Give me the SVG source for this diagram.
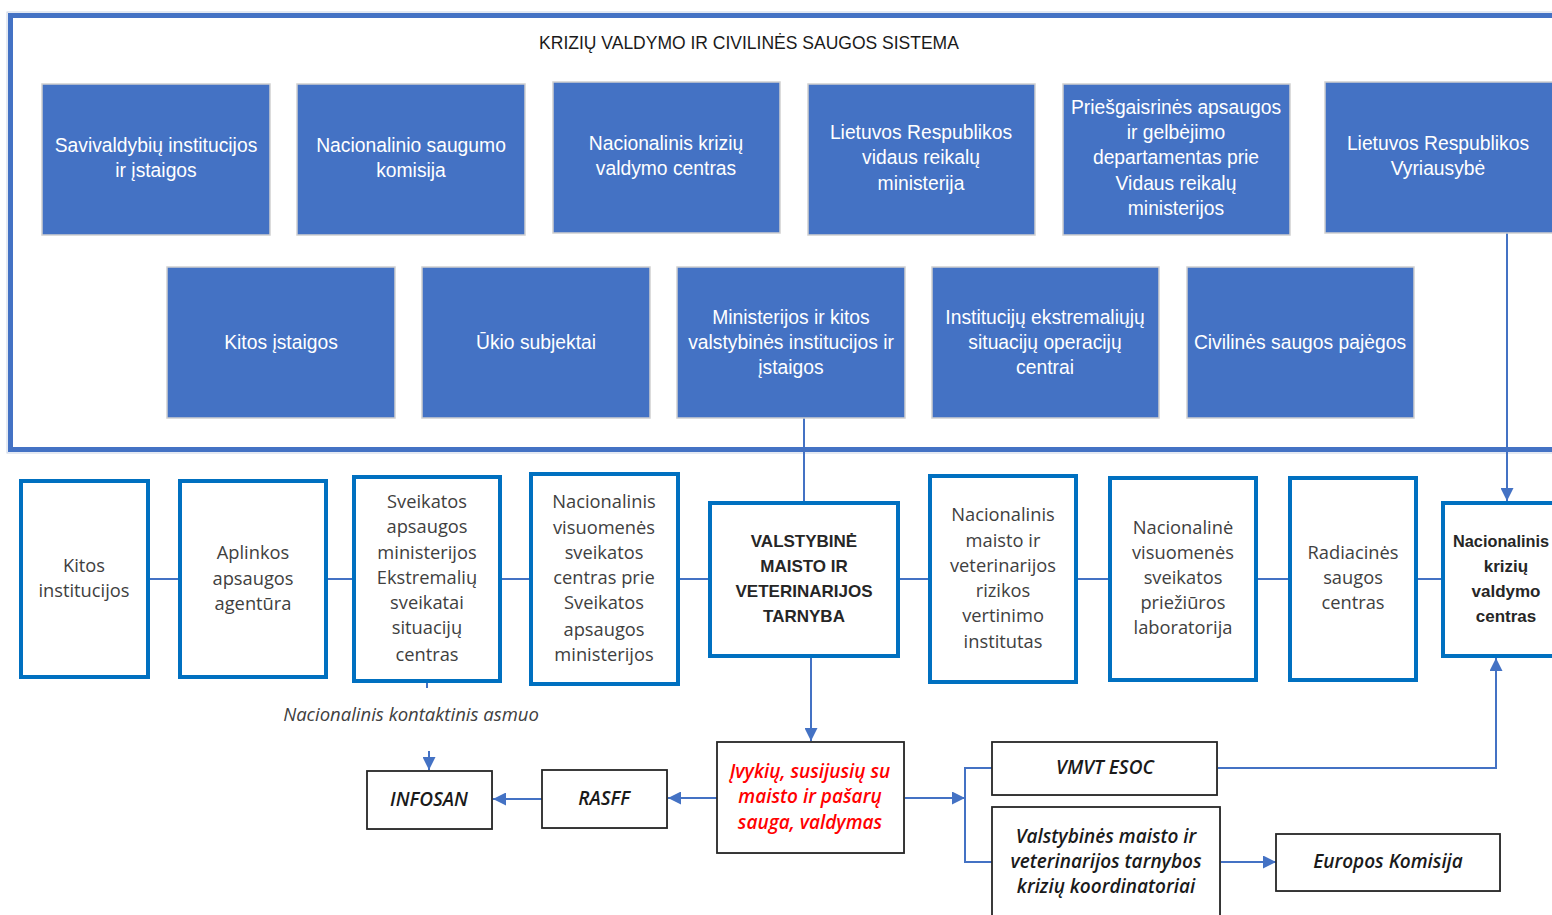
<svg xmlns="http://www.w3.org/2000/svg" width="1552" height="915" viewBox="0 0 1552 915">
<style>
.frame{fill:none;stroke:#4472C4;stroke-width:5}
.frame2{fill:none;stroke:#C9D3E6;stroke-width:1}
.bb{fill:#4472C4;stroke:#D0D0D0;stroke-width:1.5}
.bt{font-family:"Liberation Sans",Arial,sans-serif;font-size:19.3px;fill:#FFFFFF;text-anchor:middle}
.title{font-family:"Liberation Sans",Arial,sans-serif;font-size:17.5px;fill:#1A1A1A;text-anchor:middle}
.wb{fill:#FFFFFF;stroke:#0070C0;stroke-width:4}
.wt{font-family:"Open Sans","Liberation Sans",sans-serif;font-size:18.3px;fill:#404040;text-anchor:middle}
.wtb{font-family:"Liberation Sans",Arial,sans-serif;font-size:17px;font-weight:bold;fill:#262626;text-anchor:middle}
.kb{fill:#FFFFFF;stroke:#262626;stroke-width:1.8}
.sh{fill:#BFBFBF}
.it{font-family:"Open Sans","Liberation Sans",sans-serif;font-size:19px;font-style:italic;font-weight:600;fill:#1A1A1A;text-anchor:middle}
.red{fill:#FF0000}
.lbl{font-family:"Open Sans","Liberation Sans",sans-serif;font-size:18.5px;font-style:italic;fill:#404040;text-anchor:middle}
.ln{fill:none;stroke:#4472C4;stroke-width:2}
</style>
<defs>
<marker id="ah" viewBox="0 0 10 10" refX="10" refY="5" markerUnits="userSpaceOnUse" markerWidth="13" markerHeight="13" orient="auto">
<path d="M0,0 L10,5 L0,10 z" fill="#4472C4"/>
</marker>
</defs>
<rect width="1552" height="915" fill="#FFFFFF"/>

<g id="frame">
<rect class="frame2" x="7" y="12" width="1560" height="441"/>
<rect class="frame" x="10.5" y="15.5" width="1560" height="434"/>
<text class="title" x="749" y="49">KRIZIŲ VALDYMO IR CIVILINĖS SAUGOS SISTEMA</text>
</g>

<g id="connectors">
<line class="ln" x1="804" y1="418" x2="804" y2="503"/>
<line class="ln" x1="1507" y1="233" x2="1507" y2="501" marker-end="url(#ah)"/>
<line class="ln" x1="148" y1="579" x2="180" y2="579"/>
<line class="ln" x1="326" y1="579" x2="354" y2="579"/>
<line class="ln" x1="500" y1="579" x2="531" y2="579"/>
<line class="ln" x1="678" y1="579" x2="710" y2="579"/>
<line class="ln" x1="898" y1="579" x2="930" y2="579"/>
<line class="ln" x1="1076" y1="579" x2="1110" y2="579"/>
<line class="ln" x1="1256" y1="579" x2="1290" y2="579"/>
<line class="ln" x1="1416" y1="579" x2="1443" y2="579"/>
<line class="ln" x1="427" y1="681" x2="427" y2="688"/>
<line class="ln" x1="429" y1="751" x2="429" y2="770" marker-end="url(#ah)"/>
<line class="ln" x1="811" y1="656" x2="811" y2="741" marker-end="url(#ah)"/>
<line class="ln" x1="717" y1="798" x2="668" y2="798" marker-end="url(#ah)"/>
<line class="ln" x1="542" y1="799" x2="493" y2="799" marker-end="url(#ah)"/>
<line class="ln" x1="904" y1="798" x2="965" y2="798" marker-end="url(#ah)"/>
<polyline class="ln" points="992,768 965,768 965,862 992,862"/>
<polyline class="ln" points="1217,768 1496,768 1496,658" marker-end="url(#ah)"/>
<line class="ln" x1="1220" y1="862" x2="1276" y2="862" marker-end="url(#ah)"/>
</g>

<g id="n-savivaldybiu">
<rect class="bb" x="42" y="84" width="228" height="151"/>
<text class="bt" x="156" y="152">Savivaldybių institucijos</text>
<text class="bt" x="156" y="177">ir įstaigos</text>
</g>
<g id="n-nsk">
<rect class="bb" x="297" y="84" width="228" height="151"/>
<text class="bt" x="411" y="152">Nacionalinio saugumo</text>
<text class="bt" x="411" y="177">komisija</text>
</g>
<g id="n-nkvc-top">
<rect class="bb" x="553" y="82" width="227" height="151"/>
<text class="bt" x="666" y="150">Nacionalinis krizių</text>
<text class="bt" x="666" y="175">valdymo centras</text>
</g>
<g id="n-vrm">
<rect class="bb" x="808" y="84" width="227" height="151"/>
<text class="bt" x="921" y="139">Lietuvos Respublikos</text>
<text class="bt" x="921" y="164">vidaus reikalų</text>
<text class="bt" x="921" y="190">ministerija</text>
</g>
<g id="n-pagd">
<rect class="bb" x="1063" y="84" width="227" height="151"/>
<text class="bt" x="1176" y="114">Priešgaisrinės apsaugos</text>
<text class="bt" x="1176" y="139">ir gelbėjimo</text>
<text class="bt" x="1176" y="164">departamentas prie</text>
<text class="bt" x="1176" y="190">Vidaus reikalų</text>
<text class="bt" x="1176" y="215">ministerijos</text>
</g>
<g id="n-vyriausybe">
<rect class="bb" x="1325" y="82" width="240" height="151"/>
<text class="bt" x="1438" y="150">Lietuvos Respublikos</text>
<text class="bt" x="1438" y="175">Vyriausybė</text>
</g>
<g id="n-kitos-istaigos">
<rect class="bb" x="167" y="267" width="228" height="151"/>
<text class="bt" x="281" y="349">Kitos įstaigos</text>
</g>
<g id="n-ukio">
<rect class="bb" x="422" y="267" width="228" height="151"/>
<text class="bt" x="536" y="349">Ūkio subjektai</text>
</g>
<g id="n-ministerijos">
<rect class="bb" x="677" y="267" width="228" height="151"/>
<text class="bt" x="791" y="324">Ministerijos ir kitos</text>
<text class="bt" x="791" y="349">valstybinės institucijos ir</text>
<text class="bt" x="791" y="374">įstaigos</text>
</g>
<g id="n-esoc">
<rect class="bb" x="932" y="267" width="227" height="151"/>
<text class="bt" x="1045" y="324">Institucijų ekstremaliųjų</text>
<text class="bt" x="1045" y="349">situacijų operacijų</text>
<text class="bt" x="1045" y="374">centrai</text>
</g>
<g id="n-cs-pajegos">
<rect class="bb" x="1187" y="267" width="227" height="151"/>
<text class="bt" x="1300" y="349">Civilinės saugos pajėgos</text>
</g>

<g id="n-kitos-institucijos">
<rect class="wb" x="21" y="481" width="127" height="196"/>
<text class="wt" x="84" y="572">Kitos</text>
<text class="wt" x="84" y="597">institucijos</text>
</g>
<g id="n-aaa">
<rect class="wb" x="180" y="481" width="146" height="196"/>
<text class="wt" x="253" y="559">Aplinkos</text>
<text class="wt" x="253" y="585">apsaugos</text>
<text class="wt" x="253" y="610">agentūra</text>
</g>
<g id="n-sam-esc">
<rect class="wb" x="354" y="477" width="146" height="204"/>
<text class="wt" x="427" y="508">Sveikatos</text>
<text class="wt" x="427" y="533">apsaugos</text>
<text class="wt" x="427" y="559">ministerijos</text>
<text class="wt" x="427" y="584">Ekstremalių</text>
<text class="wt" x="427" y="609">sveikatai</text>
<text class="wt" x="427" y="634">situacijų</text>
<text class="wt" x="427" y="661">centras</text>
</g>
<g id="n-nvsc">
<rect class="wb" x="531" y="474" width="147" height="210"/>
<text class="wt" x="604" y="508">Nacionalinis</text>
<text class="wt" x="604" y="534">visuomenės</text>
<text class="wt" x="604" y="559">sveikatos</text>
<text class="wt" x="604" y="584">centras prie</text>
<text class="wt" x="604" y="609">Sveikatos</text>
<text class="wt" x="604" y="636">apsaugos</text>
<text class="wt" x="604" y="661">ministerijos</text>
</g>
<g id="n-vmvt">
<rect class="wb" x="710" y="503" width="188" height="153"/>
<text class="wtb" x="804" y="547">VALSTYBINĖ</text>
<text class="wtb" x="804" y="572">MAISTO IR</text>
<text class="wtb" x="804" y="597">VETERINARIJOS</text>
<text class="wtb" x="804" y="622">TARNYBA</text>
</g>
<g id="n-nmvrvi">
<rect class="wb" x="930" y="476" width="146" height="206"/>
<text class="wt" x="1003" y="521">Nacionalinis</text>
<text class="wt" x="1003" y="547">maisto ir</text>
<text class="wt" x="1003" y="572">veterinarijos</text>
<text class="wt" x="1003" y="597">rizikos</text>
<text class="wt" x="1003" y="622">vertinimo</text>
<text class="wt" x="1003" y="648">institutas</text>
</g>
<g id="n-nvspl">
<rect class="wb" x="1110" y="478" width="146" height="202"/>
<text class="wt" x="1183" y="534">Nacionalinė</text>
<text class="wt" x="1183" y="559">visuomenės</text>
<text class="wt" x="1183" y="584">sveikatos</text>
<text class="wt" x="1183" y="609">priežiūros</text>
<text class="wt" x="1183" y="634">laboratorija</text>
</g>
<g id="n-rsc">
<rect class="wb" x="1290" y="478" width="126" height="202"/>
<text class="wt" x="1353" y="559">Radiacinės</text>
<text class="wt" x="1353" y="584">saugos</text>
<text class="wt" x="1353" y="609">centras</text>
</g>
<g id="n-nkvc">
<rect class="wb" x="1443" y="503" width="130" height="153"/>
<text class="wtb" x="1501" y="547" textLength="96" lengthAdjust="spacingAndGlyphs">Nacionalinis</text>
<text class="wtb" x="1506" y="572">krizių</text>
<text class="wtb" x="1506" y="597">valdymo</text>
<text class="wtb" x="1506" y="622">centras</text>
</g>

<g id="label-kontaktinis">
<text class="lbl" x="411" y="721">Nacionalinis kontaktinis asmuo</text>
</g>

<g id="n-infosan">
<rect class="sh" x="368" y="772" width="125" height="58"/>
<rect class="kb" x="367" y="771" width="125" height="58"/>
<text class="it" x="429" y="806">INFOSAN</text>
</g>
<g id="n-rasff">
<rect class="sh" x="543" y="771" width="125" height="58"/>
<rect class="kb" x="542" y="770" width="125" height="58"/>
<text class="it" x="604" y="805">RASFF</text>
</g>
<g id="n-ivykiai">
<rect class="sh" x="718" y="743" width="187" height="111"/>
<rect class="kb" x="717" y="742" width="187" height="111"/>
<text class="it red" x="810" y="778">Įvykių, susijusių su</text>
<text class="it red" x="810" y="803">maisto ir pašarų</text>
<text class="it red" x="810" y="829">sauga, valdymas</text>
</g>
<g id="n-vmvt-esoc">
<rect class="sh" x="993" y="743" width="225" height="53"/>
<rect class="kb" x="992" y="742" width="225" height="53"/>
<text class="it" x="1105" y="774">VMVT ESOC</text>
</g>
<g id="n-koordinatoriai">
<rect class="sh" x="993" y="808" width="228" height="112"/>
<rect class="kb" x="992" y="807" width="228" height="112"/>
<text class="it" x="1106" y="843">Valstybinės maisto ir</text>
<text class="it" x="1106" y="868">veterinarijos tarnybos</text>
<text class="it" x="1106" y="893">krizių koordinatoriai</text>
</g>
<g id="n-ek">
<rect class="sh" x="1277" y="835" width="224" height="57"/>
<rect class="kb" x="1276" y="834" width="224" height="57"/>
<text class="it" x="1388" y="868">Europos Komisija</text>
</g>
</svg>
